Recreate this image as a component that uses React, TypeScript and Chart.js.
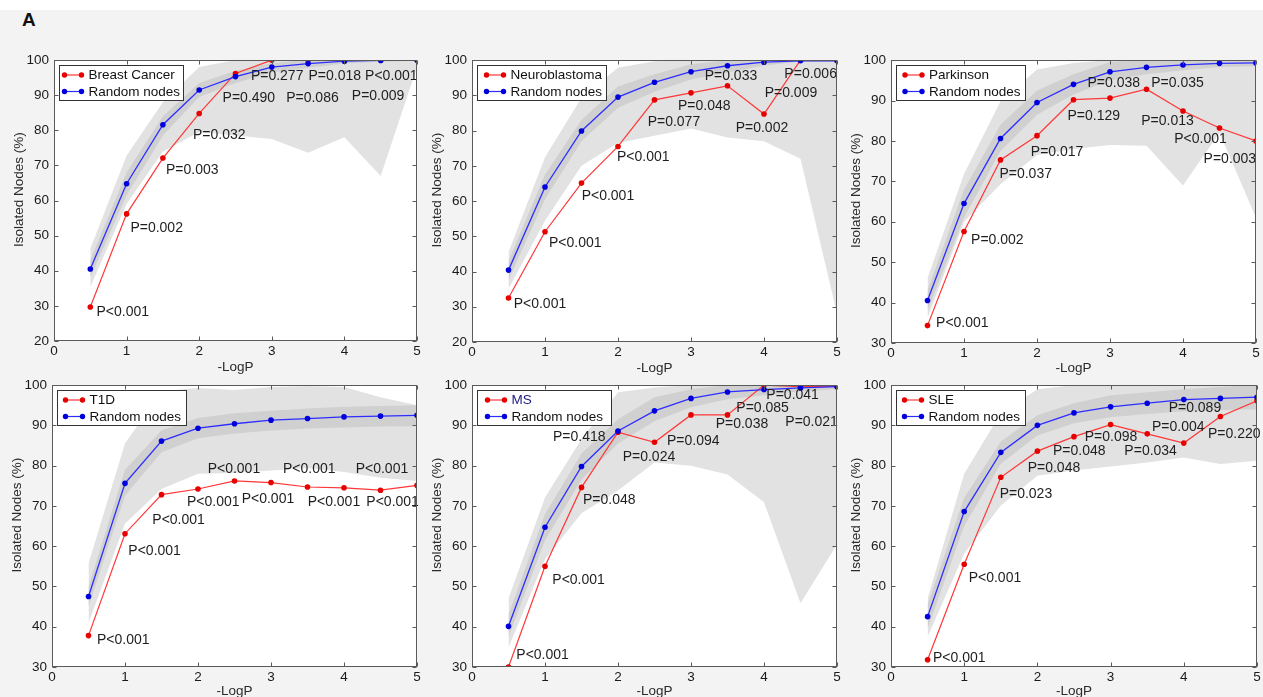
import React, { useEffect, useRef } from 'react';
import { Chart, registerables } from 'chart.js';

Chart.register(...registerables);
Chart.defaults.font.family = '"Liberation Sans", Arial, sans-serif';

// ---------- data ----------
const LOGP = [0.5, 1, 1.5, 2, 2.5, 3, 3.5, 4, 4.5, 5];

// Breast Cancer
const breastDisease = [29.7, 56.2, 72.1, 84.8, 96.2, 100, 100, 100, 100, 100];
const breastRandom = [40.5, 64.8, 81.6, 91.5, 95.3, 98, 99, 99.7, 99.9, 100];
const breastOuterHi = [46.3, 72.8, 88, 98, 100, 100, 100, 100, 100, 100];
const breastOuterLo = [35.4, 59, 74, 79.5, 78.5, 77.5, 73.6, 78, 67, 98];
const breastInnerHi = [43, 68, 84, 93.5, 97, 99.2, 100, 100, 100, 100];
const breastInnerLo = [38, 61.5, 78.5, 89.5, 93.5, 96.5, 97.8, 99, 99.5, 99.8];
const breastPText = ['P<0.001', 'P=0.002', 'P=0.003', 'P=0.032', 'P=0.490', 'P=0.277', 'P=0.086', 'P=0.018', 'P=0.009', 'P<0.001'];
const breastPX = [0.585, 1.052, 1.543, 1.915, 2.322, 2.712, 3.198, 3.505, 4.102, 4.285];
const breastPY = [28.3, 52.2, 68.6, 78.7, 89.1, 95.3, 89.3, 95.4, 89.6, 95.4];

// Neuroblastoma
const neuroDisease = [32.5, 51.3, 65.1, 75.5, 88.7, 90.7, 92.7, 84.7, 100, 100];
const neuroRandom = [40.4, 64, 79.9, 89.5, 93.7, 96.7, 98.4, 99.4, 99.8, 99.8];
const neuroOuterHi = [45.5, 72.4, 89.3, 97.8, 99.7, 100, 100, 100, 100, 100];
const neuroOuterLo = [35.1, 54.4, 70, 76.5, 78.5, 80.6, 78, 77, 72, 28];
const neuroInnerHi = [43, 67.5, 83, 92.5, 96, 98.8, 100, 100, 100, 100];
const neuroInnerLo = [37.5, 60.5, 77, 86.5, 91, 94.5, 96.5, 98.5, 99.5, 99.5];
const neuroPText = ['P<0.001', 'P<0.001', 'P<0.001', 'P<0.001', 'P=0.077', 'P=0.048', 'P=0.033', 'P=0.002', 'P=0.009', 'P=0.006'];
const neuroPX = [0.571, 1.055, 1.502, 1.986, 2.406, 2.822, 3.187, 3.612, 4.009, 4.279];
const neuroPY = [30.7, 48.1, 61.5, 72.5, 82.5, 87, 95.5, 80.8, 90.6, 96.1];

// Parkinson
const parkDisease = [34.3, 57.6, 75.3, 81.3, 90.2, 90.6, 92.8, 87.4, 83.2, 80];
const parkRandom = [40.5, 64.5, 80.6, 89.5, 94, 97.1, 98.2, 98.8, 99.2, 99.3];
const parkOuterHi = [46, 71.8, 89.8, 97.7, 99.3, 100, 100, 100, 100, 100];
const parkOuterLo = [36.2, 60, 69.3, 76.5, 78, 79, 78.8, 69, 82, 61];
const parkInnerHi = [43, 68, 84, 92.5, 96.5, 99.5, 100, 100, 100, 100];
const parkInnerLo = [38, 61, 77.5, 86.5, 91.5, 95, 96.5, 97.5, 98.3, 98.5];
const parkPText = ['P<0.001', 'P=0.002', 'P=0.037', 'P=0.017', 'P=0.129', 'P=0.038', 'P=0.035', 'P=0.013', 'P<0.001', 'P=0.003'];
const parkPX = [0.617, 1.097, 1.485, 1.915, 2.418, 2.692, 3.565, 3.428, 3.88, 4.282];
const parkPY = [34.9, 55.4, 71.7, 77.3, 86.1, 94.3, 94.3, 84.9, 80.4, 75.4];

// T1D
const t1dDisease = [37.8, 63.1, 72.8, 74.2, 76.2, 75.8, 74.7, 74.5, 73.9, 75.1];
const t1dRandom = [47.5, 75.6, 86.1, 89.3, 90.4, 91.3, 91.7, 92.1, 92.3, 92.5];
const t1dOuterHi = [55.7, 85.5, 98.5, 99.3, 98.8, 99.5, 99.8, 99.5, 97, 95];
const t1dOuterLo = [40.9, 65.6, 74.2, 78, 78.2, 78.8, 79.4, 78.4, 77, 76.2];
const t1dInnerHi = [50, 79, 88.8, 91.8, 93, 93.6, 94.2, 94.6, 94.8, 95];
const t1dInnerLo = [45, 72.5, 83.3, 86.8, 88, 88.7, 89.2, 89.5, 89.7, 89.8];
const t1dPText = ['P<0.001', 'P<0.001', 'P<0.001', 'P<0.001', 'P<0.001', 'P<0.001', 'P<0.001', 'P<0.001', 'P<0.001', 'P<0.001'];
const t1dPX = [0.616, 1.046, 1.374, 1.849, 2.132, 2.598, 3.164, 3.502, 4.16, 4.306];
const t1dPY = [36.6, 58.8, 66.4, 70.9, 79.2, 71.7, 79.2, 70.9, 79.2, 70.9];

// MS
const msDisease = [30, 55, 74.6, 88.3, 85.8, 92.6, 92.6, 100, 99.6, 99.7];
const msRandom = [40.1, 64.7, 79.8, 88.6, 93.6, 96.7, 98.3, 98.9, 99.3, 99.6];
const msOuterHi = [47, 72.1, 86.6, 98.2, 99.4, 100, 100, 100, 100, 100];
const msOuterLo = [34.8, 56.8, 68.2, 73.8, 80.8, 80, 77.8, 70.9, 45.8, 60.5];
const msInnerHi = [43, 68, 83, 91.5, 97, 99, 100, 100, 100, 100];
const msInnerLo = [37.5, 61.5, 76.5, 85.5, 91, 94.5, 96.5, 97.5, 98.5, 99];
const msPText = ['P<0.001', 'P<0.001', 'P=0.048', 'P=0.418', 'P=0.024', 'P=0.094', 'P=0.038', 'P=0.085', 'P=0.041', 'P=0.021'];
const msPX = [0.607, 1.1, 1.521, 1.11, 2.064, 2.671, 3.338, 3.621, 4.032, 4.292];
const msPY = [32.9, 51.5, 71.4, 87, 82.1, 86.2, 90.2, 94.3, 97.4, 90.7];

// SLE
const sleDisease = [31.8, 55.5, 77.1, 83.6, 87.2, 90.2, 87.9, 85.6, 92.2, 96.1];
const sleRandom = [42.5, 68.6, 83.3, 90, 93.1, 94.6, 95.5, 96.4, 96.7, 97];
const sleOuterHi = [47, 78, 93, 99, 100, 100, 100, 100, 100, 100];
const sleOuterLo = [37.5, 58.1, 70.1, 77.5, 78.8, 79.8, 80.8, 82, 80.4, 81.2];
const sleInnerHi = [45.5, 72, 86, 92.5, 95.5, 97.5, 98.2, 99, 99.5, 100];
const sleInnerLo = [39.5, 65, 80.5, 87.5, 90.5, 92, 92.8, 93.5, 93.8, 94];
const slePText = ['P<0.001', 'P<0.001', 'P=0.023', 'P=0.048', 'P=0.048', 'P=0.098', 'P=0.034', 'P=0.004', 'P=0.089', 'P=0.220'];
const slePX = [0.574, 1.061, 1.484, 1.867, 2.213, 2.646, 3.188, 3.566, 3.793, 4.331];
const slePY = [32.1, 52.1, 73, 79.3, 83.5, 87, 83.6, 89.5, 94.3, 87.9];

const RANDOM_LABEL = 'Random nodes';
const X_TITLE = '-LogP';
const Y_TITLE = 'Isolated Nodes (%)';

// ---------- layout ----------
const ML = 52;
const MT = 12;
const MR = 12;
const MB = 34;
const FONT = '"Liberation Sans", Arial, sans-serif';

type Spec = {
  name: string;
  nameColor: string;
  disease: number[];
  random: number[];
  outerHi: number[];
  outerLo: number[];
  innerHi: number[];
  innerLo: number[];
  pText: string[];
  pX: number[];
  pY: number[];
  yMin: number;
  left: number;
  top: number;
  width: number;
  height: number;
  titleGap: number;
  legendW: number;
  legendText: number;
};

const PANELS: Spec[] = [
  { name: 'Breast Cancer', nameColor: '#111', disease: breastDisease, random: breastRandom, outerHi: breastOuterHi, outerLo: breastOuterLo, innerHi: breastInnerHi, innerLo: breastInnerLo, pText: breastPText, pX: breastPX, pY: breastPY, yMin: 20, left: 54, top: 59, width: 363, height: 282, titleGap: 26, legendW: 124, legendText: 29 },
  { name: 'Neuroblastoma', nameColor: '#111', disease: neuroDisease, random: neuroRandom, outerHi: neuroOuterHi, outerLo: neuroOuterLo, innerHi: neuroInnerHi, innerLo: neuroInnerLo, pText: neuroPText, pX: neuroPX, pY: neuroPY, yMin: 20, left: 472, top: 59, width: 365, height: 283, titleGap: 26, legendW: 129, legendText: 33 },
  { name: 'Parkinson', nameColor: '#111', disease: parkDisease, random: parkRandom, outerHi: parkOuterHi, outerLo: parkOuterLo, innerHi: parkInnerHi, innerLo: parkInnerLo, pText: parkPText, pX: parkPX, pY: parkPY, yMin: 30, left: 891, top: 59, width: 365, height: 284, titleGap: 25, legendW: 129, legendText: 32.5 },
  { name: 'T1D', nameColor: '#111', disease: t1dDisease, random: t1dRandom, outerHi: t1dOuterHi, outerLo: t1dOuterLo, innerHi: t1dInnerHi, innerLo: t1dInnerLo, pText: t1dPText, pX: t1dPX, pY: t1dPY, yMin: 30, left: 52, top: 384, width: 365, height: 283, titleGap: 24.5, legendW: 129, legendText: 32 },
  { name: 'MS', nameColor: '#1c1c80', disease: msDisease, random: msRandom, outerHi: msOuterHi, outerLo: msOuterLo, innerHi: msInnerHi, innerLo: msInnerLo, pText: msPText, pX: msPX, pY: msPY, yMin: 30, left: 472, top: 384, width: 365, height: 283, titleGap: 24.5, legendW: 134, legendText: 34 },
  { name: 'SLE', nameColor: '#111', disease: sleDisease, random: sleRandom, outerHi: sleOuterHi, outerLo: sleOuterLo, innerHi: sleInnerHi, innerLo: sleInnerLo, pText: slePText, pX: slePX, pY: slePY, yMin: 30, left: 891, top: 384, width: 366, height: 283, titleGap: 24.5, legendW: 129, legendText: 32 },
];

const RED_LINE = 'rgb(255,55,55)';
const RED_PT = '#e60000';
const BLUE_LINE = 'rgb(45,45,255)';
const BLUE_PT = '#0000dc';

function pts(ys: number[]) {
  return LOGP.map((x, i) => ({ x, y: ys[i] }));
}

function decor(spec: Spec) {
  return {
    id: 'decor',
    beforeDraw(chart: any) {
      const { ctx, chartArea: a } = chart;
      ctx.save();
      ctx.fillStyle = '#ffffff';
      ctx.fillRect(a.left, a.top, a.right - a.left, a.bottom - a.top);
      ctx.restore();
    },
    afterDatasetsDraw(chart: any) {
      const { ctx, chartArea: a } = chart;
      const xs = chart.scales.x;
      const ys = chart.scales.y;
      ctx.save();
      // P-value labels
      ctx.font = '14px ' + FONT;
      ctx.fillStyle = '#1e1e1e';
      ctx.textAlign = 'left';
      ctx.textBaseline = 'middle';
      spec.pText.forEach((t, i) => {
        ctx.fillText(t, xs.getPixelForValue(spec.pX[i]), ys.getPixelForValue(spec.pY[i]));
      });
      // axes box + inward ticks
      ctx.strokeStyle = '#5a5a5a';
      ctx.lineWidth = 1;
      const L = Math.round(a.left) + 0.5;
      const R = Math.round(a.right) - 0.5;
      const T = Math.round(a.top) + 0.5;
      const B = Math.round(a.bottom) - 0.5;
      ctx.strokeRect(L, T, R - L, B - T);
      ctx.beginPath();
      xs.ticks.forEach((tk: any) => {
        const px = Math.round(xs.getPixelForValue(tk.value)) + 0.5;
        ctx.moveTo(px, B); ctx.lineTo(px, B - 4);
        ctx.moveTo(px, T); ctx.lineTo(px, T + 4);
      });
      ys.ticks.forEach((tk: any) => {
        const py = Math.round(ys.getPixelForValue(tk.value)) + 0.5;
        ctx.moveTo(L, py); ctx.lineTo(L + 4, py);
        ctx.moveTo(R, py); ctx.lineTo(R - 4, py);
      });
      ctx.stroke();
      ctx.restore();
    },
    afterDraw(chart: any) {
      const { ctx, chartArea: a } = chart;
      ctx.save();
      // axis titles
      ctx.font = '13.5px ' + FONT;
      ctx.fillStyle = '#2a2a2a';
      ctx.textAlign = 'center';
      ctx.textBaseline = 'middle';
      ctx.fillText(X_TITLE, (a.left + a.right) / 2, a.bottom + spec.titleGap);
      ctx.translate(a.left - 35, (a.top + a.bottom) / 2 - 11);
      ctx.rotate(-Math.PI / 2);
      ctx.fillText(Y_TITLE, 0, 0);
      ctx.restore();

      // legend
      ctx.save();
      ctx.font = '13.5px ' + FONT;
      const bx = Math.round(a.left) + 5.5;
      const by = Math.round(a.top) + 5.5;
      const bw = spec.legendW;
      const bh = 35;
      ctx.fillStyle = '#fff';
      ctx.fillRect(bx, by, bw, bh);
      ctx.strokeStyle = '#333';
      ctx.lineWidth = 1;
      ctx.strokeRect(bx, by, bw, bh);
      const rows = [
        { y: by + 9.5, line: RED_LINE, pt: RED_PT, text: spec.name, color: spec.nameColor },
        { y: by + 26, line: BLUE_LINE, pt: BLUE_PT, text: RANDOM_LABEL, color: '#111' },
      ];
      const d0 = spec.legendText - 24;
      const d1 = spec.legendText - 7;
      rows.forEach((r) => {
        ctx.strokeStyle = r.line;
        ctx.lineWidth = 1.2;
        ctx.beginPath();
        ctx.moveTo(bx + d0, r.y);
        ctx.lineTo(bx + d1, r.y);
        ctx.stroke();
        ctx.fillStyle = r.pt;
        [bx + d0, bx + d1].forEach((cx) => {
          ctx.beginPath();
          ctx.arc(cx, r.y, 2.7, 0, Math.PI * 2);
          ctx.fill();
        });
        ctx.fillStyle = r.color;
        ctx.textAlign = 'left';
        ctx.textBaseline = 'middle';
        ctx.fillText(r.text, bx + spec.legendText, r.y + 0.5);
      });
      ctx.restore();
    },
  };
}

function Panel({ spec }: { spec: Spec }) {
  const ref = useRef<HTMLCanvasElement>(null);
  const w = spec.width + ML + MR;
  const h = spec.height + MT + MB;

  useEffect(() => {
    const band = (data: number[], fill: any, color: string, order: number) => ({
      data: pts(data),
      fill,
      backgroundColor: color,
      borderColor: 'rgba(0,0,0,0)',
      borderWidth: 0,
      pointRadius: 0,
      order,
    });
    const chart = new Chart(ref.current as HTMLCanvasElement, {
      type: 'line',
      data: {
        datasets: [
          band(spec.outerHi, '+1', '#e2e2e2', 10),
          band(spec.outerLo, false, '#e2e2e2', 10),
          band(spec.innerHi, '+1', '#d0d0d0', 8),
          band(spec.innerLo, false, '#d0d0d0', 8),
          {
            label: spec.name,
            data: pts(spec.disease),
            borderColor: RED_LINE,
            borderWidth: 1.2,
            pointRadius: 2.8,
            pointBorderWidth: 0,
            pointBackgroundColor: RED_PT,
            fill: false,
            tension: 0,
            order: 2,
          },
          {
            label: RANDOM_LABEL,
            data: pts(spec.random),
            borderColor: BLUE_LINE,
            borderWidth: 1.3,
            pointRadius: 2.8,
            pointBorderWidth: 0,
            pointBackgroundColor: BLUE_PT,
            fill: false,
            tension: 0,
            order: 1,
          },
        ] as any,
      },
      options: {
        animation: false,
        responsive: false,
        events: [],
        layout: { padding: { left: 0, top: MT, right: MR, bottom: 0 } },
        plugins: {
          legend: { display: false },
          tooltip: { enabled: false },
          title: { display: false },
        },
        scales: {
          x: {
            type: 'linear',
            min: 0,
            max: 5,
            grid: { display: false, drawTicks: false },
            border: { display: false },
            ticks: { stepSize: 1, padding: 2, color: '#1a1a1a', font: { size: 13.5 }, maxRotation: 0, autoSkip: false },
            afterFit: (s: any) => { s.height = MB; },
          },
          y: {
            type: 'linear',
            min: spec.yMin,
            max: 100,
            grid: { display: false, drawTicks: false },
            border: { display: false },
            ticks: { stepSize: 10, padding: 5, color: '#1a1a1a', font: { size: 13.5 }, autoSkip: false },
            afterFit: (s: any) => { s.width = ML; },
          },
        },
      } as any,
      plugins: [decor(spec)],
    });
    return () => chart.destroy();
  }, [spec]);

  return (
    <canvas
      ref={ref}
      width={w}
      height={h}
      style={{ position: 'absolute', left: spec.left - ML, top: spec.top - MT, width: w, height: h }}
    />
  );
}

export default function App() {
  return (
    <div
      style={{
        position: 'absolute',
        left: 0,
        top: 0,
        width: 1263,
        height: 697,
        overflow: 'hidden',
        background: '#f3f3f3',
        fontFamily: FONT,
      }}
    >
      <div style={{ position: 'absolute', left: 0, top: 0, width: 1263, height: 10, background: '#fff' }} />
      <div style={{ position: 'absolute', left: 22, top: 11, fontSize: 19, lineHeight: '18px', fontWeight: 'bold', color: '#111' }}>A</div>
      {PANELS.map((p) => (
        <Panel key={p.name} spec={p} />
      ))}
    </div>
  );
}
